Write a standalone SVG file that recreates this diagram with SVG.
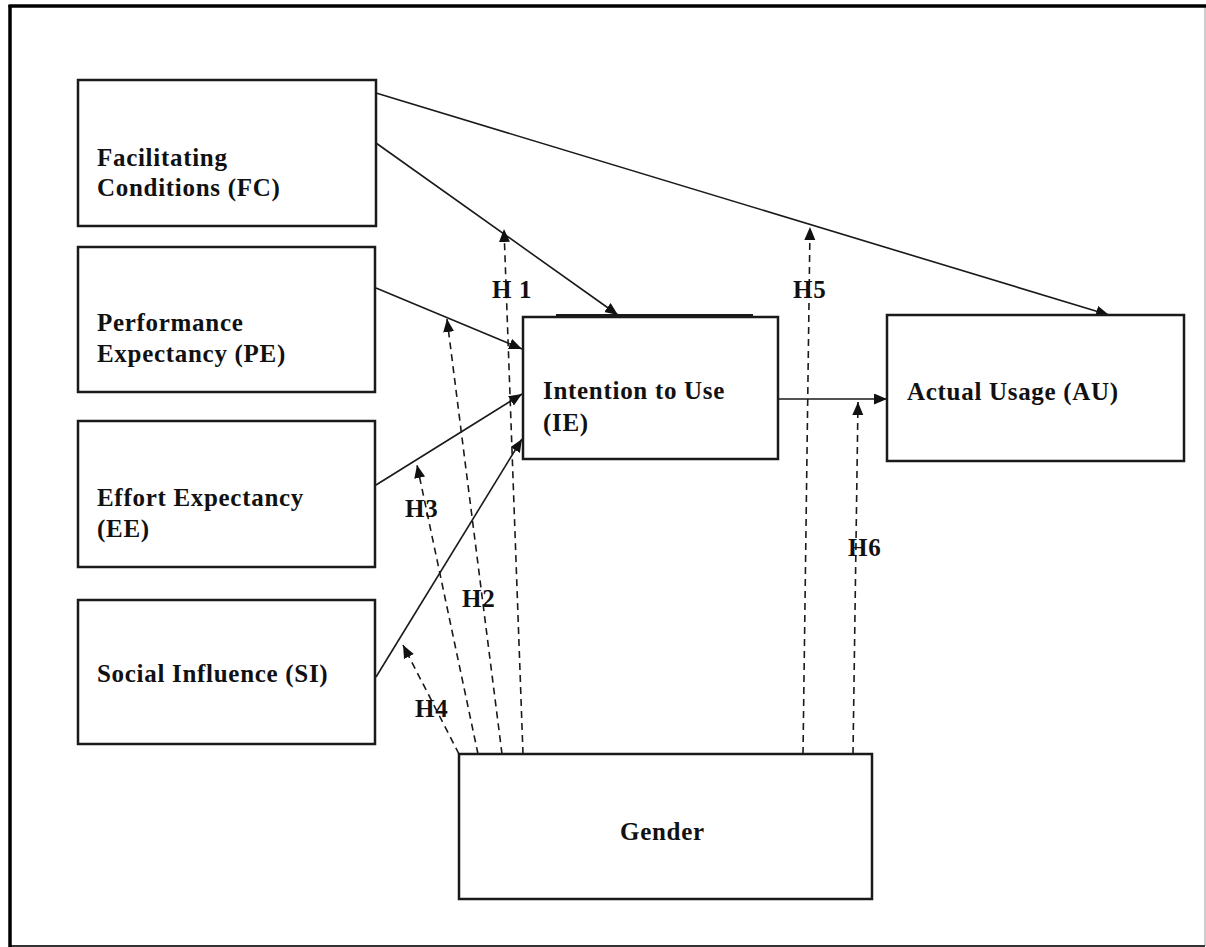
<svg xmlns="http://www.w3.org/2000/svg" width="1206" height="947" viewBox="0 0 1206 947">
<style>
.box{fill:#fff;stroke:#1a1a1a;stroke-width:2.5}
.t{font-family:"Liberation Serif","Times New Roman",serif;font-weight:bold;font-size:25px;letter-spacing:0.7px;fill:#111}
.c{stroke:#1a1a1a;stroke-width:1.6;fill:none}
.d{stroke:#1a1a1a;stroke-width:1.6;fill:none;stroke-dasharray:7 5}
</style>
<defs>
<marker id="ah" markerUnits="userSpaceOnUse" markerWidth="14" markerHeight="12" refX="13" refY="5.5" orient="auto">
<path d="M0,0 L13,5.5 L0,11 z" fill="#111"/>
</marker>
</defs>
<rect width="1206" height="947" fill="#fff"/>
<g id="frame">
<line x1="1205" y1="6" x2="1205" y2="946" stroke="#bbb" stroke-width="1.5"/>
<line x1="10" y1="946" x2="1205" y2="946" stroke="#333" stroke-width="2"/>
<line x1="8.5" y1="6" x2="1206" y2="6" stroke="#000" stroke-width="3.5"/>
<line x1="10" y1="5" x2="10" y2="947" stroke="#000" stroke-width="3.5"/>
</g>
<g id="connectors">
<line class="c" x1="376" y1="93" x2="1109" y2="315" marker-end="url(#ah)"/>
<line class="c" x1="376" y1="143" x2="618" y2="315" marker-end="url(#ah)"/>
<line class="c" x1="376" y1="288" x2="522" y2="349" marker-end="url(#ah)"/>
<line class="c" x1="376" y1="485" x2="522" y2="394" marker-end="url(#ah)"/>
<line class="c" x1="376" y1="677" x2="522" y2="439" marker-end="url(#ah)"/>
<line class="c" x1="778" y1="399" x2="887" y2="399" marker-end="url(#ah)"/>
<line class="d" x1="523" y1="754" x2="504" y2="229" marker-end="url(#ah)"/>
<line class="d" x1="502" y1="754" x2="447" y2="319" marker-end="url(#ah)"/>
<line class="d" x1="478" y1="754" x2="417" y2="465" marker-end="url(#ah)"/>
<line class="d" x1="459" y1="754" x2="403" y2="645" marker-end="url(#ah)"/>
<line class="d" x1="803" y1="754" x2="810" y2="227" marker-end="url(#ah)"/>
<line class="d" x1="853" y1="754" x2="858" y2="402" marker-end="url(#ah)"/>
</g>
<g id="labels">
<text class="t" x="492" y="298">H 1</text>
<text class="t" x="793" y="298">H5</text>
<text class="t" x="405" y="517">H3</text>
<text class="t" x="462" y="607">H2</text>
<text class="t" x="415" y="717">H4</text>
<text class="t" x="848" y="556">H6</text>
</g>
<g id="FC">
<rect class="box" x="78" y="80" width="298" height="146"/>
<text class="t" x="97" y="166">Facilitating</text>
<text class="t" x="97" y="196">Conditions (FC)</text>
</g>
<g id="PE">
<rect class="box" x="78" y="247" width="297" height="145"/>
<text class="t" x="97" y="331">Performance</text>
<text class="t" x="97" y="362">Expectancy (PE)</text>
</g>
<g id="EE">
<rect class="box" x="78" y="421" width="297" height="146"/>
<text class="t" x="97" y="506">Effort Expectancy</text>
<text class="t" x="97" y="537">(EE)</text>
</g>
<g id="SI">
<rect class="box" x="78" y="600" width="297" height="144"/>
<text class="t" x="97" y="682">Social Influence (SI)</text>
</g>
<g id="IE">
<rect class="box" x="523" y="317" width="255" height="142"/>
<line x1="556" y1="315" x2="753" y2="315" stroke="#1a1a1a" stroke-width="2"/>
<text class="t" x="543" y="399">Intention to Use</text>
<text class="t" x="543" y="431">(IE)</text>
</g>
<g id="AU">
<rect class="box" x="887" y="315" width="297" height="146"/>
<text class="t" x="907" y="400">Actual Usage (AU)</text>
</g>
<g id="Gender">
<rect class="box" x="459" y="754" width="413" height="145"/>
<text class="t" x="620" y="840">Gender</text>
</g>
</svg>
